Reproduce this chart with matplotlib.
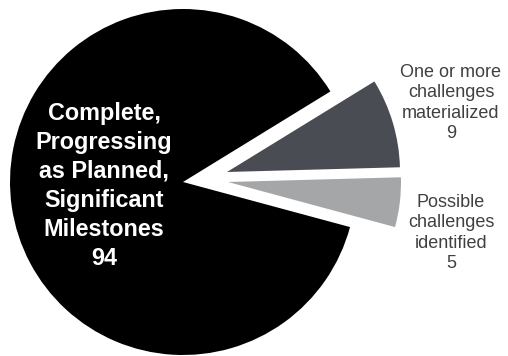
import matplotlib
matplotlib.use("Agg")
import matplotlib.pyplot as plt

# Project status counts
categories = [
    "Complete,\nProgressing\nas Planned,\nSignificant\nMilestones",
    "One or more\nchallenges\nmaterialized",
    "Possible\nchallenges\nidentified",
]
values = [94, 9, 5]
colors = ["#000000", "#4a4c53", "#a5a6a8"]

plt.rcParams["font.family"] = ["Liberation Sans", "DejaVu Sans"]

W, H = 508, 356
fig = plt.figure(figsize=(W / 100, H / 100), dpi=100)
ax = fig.add_axes([0, 0, 1, 1])

# Axes are in pixel units
cx, cy, r = 183, H - 182, 173
wedges, _ = ax.pie(values, colors=colors, startangle=-15.1,
                   counterclock=False, center=(cx, cy), radius=r,
                   wedgeprops=dict(linewidth=0))

# Pull the two small wedges out to the right
offsets = [(0, 0), (44, 10), (45, 0)]
for w, (dx, dy) in zip(wedges, offsets):
    w.set_center((cx + dx, cy + dy))

ax.set_xlim(0, W)
ax.set_ylim(0, H)
ax.set_aspect("equal")
ax.axis("off")

# Label inside the large wedge
ax.text(104, H - 186, f"{categories[0]}\n{values[0]}", ha="center", va="center",
        color="white", fontsize=16.8, fontweight="bold", linespacing=1.34)

# Labels beside the pulled-out wedges
ax.text(451, H - 103, f"{categories[1]}\n{values[1]}", ha="center", va="center",
        color="#404040", fontsize=13, linespacing=1.24)
ax.text(451, H - 233, f"{categories[2]}\n{values[2]}", ha="center", va="center",
        color="#404040", fontsize=13, linespacing=1.24)

fig.savefig("out.png", dpi=100)
